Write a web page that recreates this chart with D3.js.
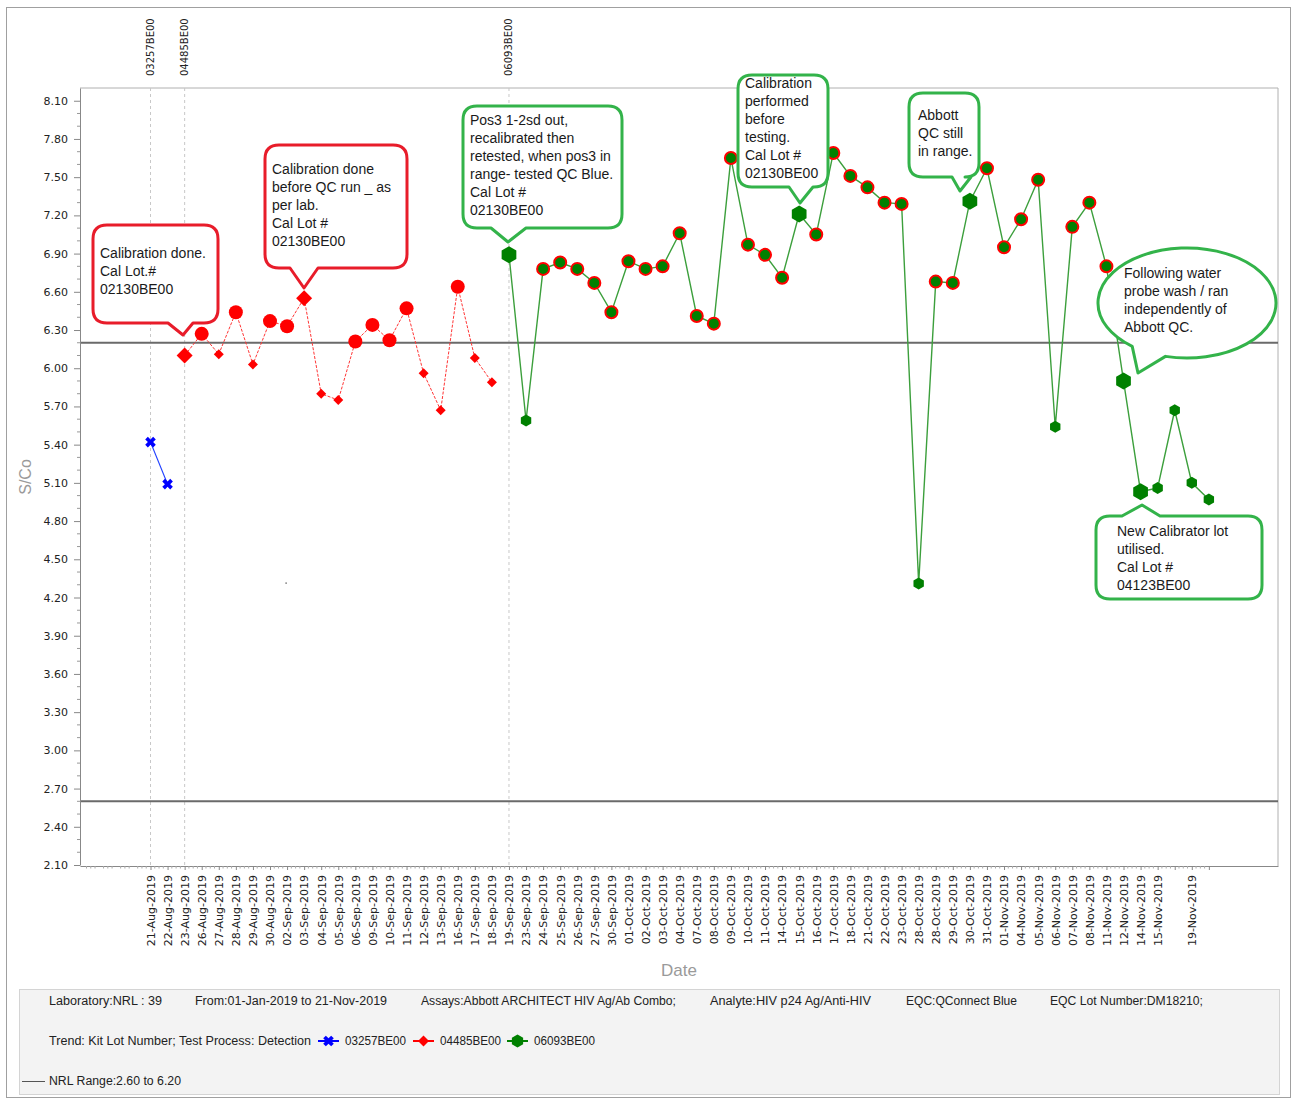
<!DOCTYPE html>
<html>
<head>
<meta charset="utf-8">
<script src="https://cdn.jsdelivr.net/npm/d3@7"></script>
<style>
  body { margin: 0; background: #fff; }
  svg { display: block; }
</style>
</head>
<body>
<div id="chart"></div>
<script>
// QC trend chart for QConnect Blue, by kit lot number.

const dates = [
  '21-Aug-2019', '22-Aug-2019', '23-Aug-2019', '26-Aug-2019', '27-Aug-2019', '28-Aug-2019', '29-Aug-2019', '30-Aug-2019',
  '02-Sep-2019', '03-Sep-2019', '04-Sep-2019', '05-Sep-2019', '06-Sep-2019', '09-Sep-2019', '10-Sep-2019', '11-Sep-2019',
  '12-Sep-2019', '13-Sep-2019', '16-Sep-2019', '17-Sep-2019', '18-Sep-2019', '19-Sep-2019', '23-Sep-2019', '24-Sep-2019',
  '25-Sep-2019', '26-Sep-2019', '27-Sep-2019', '30-Sep-2019', '01-Oct-2019', '02-Oct-2019', '03-Oct-2019', '04-Oct-2019',
  '07-Oct-2019', '08-Oct-2019', '09-Oct-2019', '10-Oct-2019', '11-Oct-2019', '14-Oct-2019', '15-Oct-2019', '16-Oct-2019',
  '17-Oct-2019', '18-Oct-2019', '21-Oct-2019', '22-Oct-2019', '23-Oct-2019', '28-Oct-2019', '28-Oct-2019', '29-Oct-2019',
  '30-Oct-2019', '31-Oct-2019', '01-Nov-2019', '04-Nov-2019', '05-Nov-2019', '06-Nov-2019', '07-Nov-2019', '08-Nov-2019',
  '11-Nov-2019', '12-Nov-2019', '14-Nov-2019', '15-Nov-2019', '', '19-Nov-2019', ''
];

const lotNames = ['03257BE00', '04485BE00', '06093BE00'];
const lotStart = [0, 2, 21];
const lotBlue = [5.42, 5.09];
const lotRed = [6.10, 6.27, 6.11, 6.44, 6.03, 6.37, 6.33, 6.55, 5.80, 5.75, 6.21, 6.34, 6.22, 6.47, 5.96, 5.67, 6.64, 6.08, 5.89];
const lotGreen = [
  6.89, 5.59, 6.78, 6.83, 6.78, 6.67, 6.44, 6.84, 6.78, 6.80, 7.06, 6.41, 6.35, 7.65, 6.97, 6.89, 6.71, 7.21, 7.05, 7.69,
  7.51, 7.42, 7.30, 7.29, 4.31, 6.68, 6.67, 7.31, 7.57, 6.95, 7.17, 7.48, 5.54, 7.11, 7.30, 6.80, 5.90, 5.03, 5.06, 5.67,
  5.10, 4.97
];
const annotated = [2, 9, 21, 38, 48, 57, 58];
const nrlRange = [2.60, 6.20];
const yTicks = d3.range(0, 21).map(i => +(2.10 + i * 0.30).toFixed(2));

const infoRow1 = [
  'Laboratory:NRL : 39', 'From:01-Jan-2019 to 21-Nov-2019', 'Assays:Abbott ARCHITECT HIV Ag/Ab Combo;',
  'Analyte:HIV p24 Ag/Anti-HIV', 'EQC:QConnect Blue', 'EQC Lot Number:DM18210;'
];
const trendLabel = 'Trend: Kit Lot Number; Test Process: Detection';
const rangeLabel = 'NRL Range:2.60 to 6.20';

// callout notes (annotation boxes, pixel layout)
const notes = [
  {color: 'red', lines: ['Calibration done.', 'Cal Lot.#', '02130BE00'],
    box: [93, 225, 218, 323], side: 'bottom', base: [168, 193], tip: [183, 335], tx: 100, ty: 253},
  {color: 'red', lines: ['Calibration done', 'before QC run _ as', 'per lab.', 'Cal Lot #', '02130BE00'],
    box: [265, 145, 407, 268], side: 'bottom', base: [290, 318], tip: [304, 288], tx: 272, ty: 169},
  {color: 'green', lines: ['Pos3 1-2sd out,', 'recalibrated then', 'retested, when pos3 in', 'range- tested QC Blue.', 'Cal Lot #', '02130BE00'],
    box: [463, 106, 622, 228], side: 'bottom', base: [491, 526], tip: [508, 242], tx: 470, ty: 120},
  {color: 'green', lines: ['Calibration', 'performed', 'before', 'testing.', 'Cal Lot #', '02130BE00'],
    box: [738, 75, 828, 187], side: 'bottom', base: [789, 813], tip: [800, 203], tx: 745, ty: 83},
  {color: 'green', lines: ['Abbott', 'QC still', 'in range.'],
    box: [909, 93, 979, 177], side: 'bottom', base: [952, 971], tip: [960, 191], tx: 918, ty: 115},
  {color: 'green', lines: ['Following water', 'probe wash / ran', 'independently of', 'Abbott QC.'],
    ellipse: [1187, 303, 89, 55], base: [128, 104], tip: [1138, 373], tx: 1124, ty: 273},
  {color: 'green', lines: ['New Calibrator lot', 'utilised.', 'Cal Lot #', '04123BE00'],
    box: [1096, 516, 1262, 599], side: 'top', base: [1122, 1160], tip: [1142, 505], tx: 1117, ty: 531}
];

const W = 1292, H = 1099;
const plot = {left: 80, right: 1278, top: 88, bottom: 866};
const colors = {blue: '#0000ff', red: '#ff0000', green: '#008000', noteRed: '#e81c2a', noteGreen: '#33b34a'};

const svg = d3.select('#chart').append('svg')
  .attr('width', W).attr('height', H)
  .style('font-family', '"DejaVu Sans", sans-serif');

const x = d3.scaleLinear().domain([-4.13, 66.05]).range([plot.left, plot.right]);
const y = d3.scaleLinear().domain([2.10, 8.20]).range([plot.bottom - 1, plot.top]);

// outer frame and info box
svg.append('rect').attr('x', 6.5).attr('y', 7.5).attr('width', 1284).attr('height', 1090)
  .attr('fill', '#fff').attr('stroke', '#a0a0a0');
svg.append('rect').attr('x', 19.5).attr('y', 989.5).attr('width', 1260).attr('height', 105)
  .attr('fill', '#f3f3f3').attr('stroke', '#d4d4d4');

// plot frame
svg.append('path')
  .attr('d', `M${plot.left},${plot.top}H${plot.right}V${plot.bottom}`)
  .attr('fill', 'none').attr('stroke', '#b0b0b0');

// lot change lines and labels
lotStart.forEach((s, i) => {
  svg.append('line')
    .attr('x1', x(s)).attr('x2', x(s)).attr('y1', plot.top).attr('y2', plot.bottom)
    .attr('stroke', '#c8c8c8').attr('stroke-dasharray', '3,3');
  svg.append('text')
    .attr('transform', `translate(${x(s) + 3.5},76) rotate(-90)`)
    .attr('font-size', 10).attr('fill', '#222')
    .text(lotNames[i]);
});

// NRL range lines
nrlRange.forEach(v => {
  svg.append('line')
    .attr('x1', plot.left).attr('x2', plot.right).attr('y1', y(v)).attr('y2', y(v))
    .attr('stroke', '#6a6a6a').attr('stroke-width', 2);
});

// y axis
const yAxis = svg.append('g').attr('transform', `translate(${plot.left},0)`)
  .call(d3.axisLeft(y).tickValues(yTicks).tickFormat(d3.format('.2f')).tickSize(6).tickSizeOuter(0));
yAxis.select('.domain').attr('stroke', '#888');
yAxis.selectAll('.tick line').attr('stroke', '#888');
yAxis.selectAll('.tick text').attr('font-size', 11).attr('fill', '#222').attr('x', -12)
  .style('font-family', '"DejaVu Sans", sans-serif');
svg.append('g').selectAll('line')
  .data(d3.range(2.1, 8.15, 0.1).filter((d, i) => i % 3 !== 0))
  .join('line')
  .attr('x1', plot.left - 3).attr('x2', plot.left).attr('y1', d => y(d)).attr('y2', d => y(d))
  .attr('stroke', '#999');

// x axis
const xAxis = svg.append('g').attr('transform', `translate(0,${plot.bottom})`)
  .call(d3.axisBottom(x).tickValues(d3.range(0, dates.length)).tickFormat(i => dates[i]).tickSize(4).tickSizeOuter(0));
xAxis.select('.domain').attr('stroke', '#888');
xAxis.selectAll('.tick line').attr('stroke', '#888');
xAxis.selectAll('.tick text')
  .attr('font-size', 11).attr('fill', '#222')
  .attr('transform', 'rotate(-90)')
  .attr('text-anchor', 'end').attr('dy', '0.35em').attr('x', -9).attr('y', 0)
  .style('font-family', '"DejaVu Sans", sans-serif');
svg.append('g').selectAll('line')
  .data(d3.range(-4, dates.length - 0.9, 0.25).filter(d => d % 1 !== 0))
  .join('line')
  .attr('x1', d => x(d)).attr('x2', d => x(d)).attr('y1', plot.bottom).attr('y2', plot.bottom + 2.5)
  .attr('stroke', '#aaa');

// axis titles
svg.append('text').attr('transform', `translate(31,477) rotate(-90)`)
  .attr('text-anchor', 'middle').attr('font-size', 16).attr('fill', '#9a9a9a')
  .style('font-family', '"Liberation Sans Narrow", "Liberation Sans", sans-serif')
  .text('S/Co');
svg.append('text').attr('x', 679).attr('y', 976)
  .attr('text-anchor', 'middle').attr('font-size', 17).attr('fill', '#9a9a9a')
  .style('font-family', '"Liberation Sans", sans-serif')
  .text('Date');

// markers
const hexPath = r => d3.line()(d3.range(6).map(k => {
  const a = Math.PI / 3 * k - Math.PI / 2;
  return [r * Math.cos(a), r * Math.sin(a)];
})) + 'Z';
const crossPath = d3.symbol(d3.symbolCross, 70)();
const squarePath = s => d3.symbol(d3.symbolSquare, s)();

const series = [
  {values: lotBlue, start: lotStart[0], color: colors.blue, line: '#2040ff', width: 1.2, dash: null},
  {values: lotRed, start: lotStart[1], color: colors.red, line: '#ff3535', width: 1, dash: '3,1.5'},
  {values: lotGreen, start: lotStart[2], color: colors.green, line: '#3c9f3c', width: 1.4, dash: null}
];

series.forEach((s, si) => {
  const pts = s.values.map((v, i) => ({i: s.start + i, v}));
  svg.append('path')
    .attr('d', d3.line().x(d => x(d.i)).y(d => y(d.v))(pts))
    .attr('fill', 'none').attr('stroke', s.line).attr('stroke-width', s.width)
    .attr('stroke-dasharray', s.dash);

  const g = svg.append('g');
  pts.forEach(p => {
    const big = annotated.includes(p.i);
    const out = p.v > nrlRange[1];
    const m = g.append('path').attr('transform', `translate(${x(p.i)},${y(p.v)})`);
    if (si === 0) {
      m.attr('d', crossPath).attr('fill', s.color)
        .attr('transform', `translate(${x(p.i)},${y(p.v)}) rotate(45)`);
    } else if (si === 1) {
      if (out && !big) m.attr('d', d3.symbol(d3.symbolCircle, Math.PI * 49)()).attr('fill', s.color);
      else m.attr('d', squarePath(big ? 128 : 50)).attr('fill', s.color)
        .attr('transform', `translate(${x(p.i)},${y(p.v)}) rotate(45)`);
    } else {
      if (out && !big) m.attr('d', d3.symbol(d3.symbolCircle, Math.PI * 36)())
        .attr('fill', s.color).attr('stroke', colors.red).attr('stroke-width', 2);
      else m.attr('d', hexPath(big ? 8.5 : 6)).attr('fill', s.color);
    }
  });
});

// stray dot
svg.append('rect').attr('x', 285.5).attr('y', 582.5).attr('width', 1.2).attr('height', 1.2).attr('fill', '#333');

// callouts
function bubble(n) {
  if (n.ellipse) {
    const [cx, cy, rx, ry] = n.ellipse;
    const pt = a => [cx + rx * Math.cos(a * Math.PI / 180), cy + ry * Math.sin(a * Math.PI / 180)];
    const A = pt(n.base[0]), B = pt(n.base[1]);
    return `M${A}A${rx},${ry} 0 1 1 ${B}L${n.tip}Z`;
  }
  const [x0, y0, x1, y1] = n.box, r = 14;
  if (n.side === 'bottom') {
    return `M${x0 + r},${y0}H${x1 - r}Q${x1},${y0} ${x1},${y0 + r}V${y1 - r}Q${x1},${y1} ${x1 - r},${y1}` +
      `H${n.base[1]}L${n.tip}L${n.base[0]},${y1}H${x0 + r}Q${x0},${y1} ${x0},${y1 - r}V${y0 + r}Q${x0},${y0} ${x0 + r},${y0}Z`;
  }
  return `M${x0 + r},${y0}H${n.base[0]}L${n.tip}L${n.base[1]},${y0}H${x1 - r}Q${x1},${y0} ${x1},${y0 + r}V${y1 - r}` +
    `Q${x1},${y1} ${x1 - r},${y1}H${x0 + r}Q${x0},${y1} ${x0},${y1 - r}V${y0 + r}Q${x0},${y0} ${x0 + r},${y0}Z`;
}

notes.forEach(n => {
  svg.append('path').attr('d', bubble(n))
    .attr('fill', '#fff')
    .attr('stroke', n.color === 'red' ? colors.noteRed : colors.noteGreen)
    .attr('stroke-width', 3).attr('stroke-linejoin', 'round');
  const t = svg.append('text')
    .attr('font-size', 14).attr('fill', '#1a1a1a')
    .style('font-family', '"Liberation Sans", Arial, sans-serif');
  n.lines.forEach((line, i) => {
    t.append('tspan').attr('x', n.tx).attr('y', n.ty + i * 18).attr('dy', '0.35em').text(line);
  });
});

// info box text
const infoFont = '"Liberation Sans", Arial, sans-serif';
const infoX = [49, 195, 421, 710, 906, 1050];
const infoW = [113, 192, 255, 161, 111, 153];
infoRow1.forEach((s, i) => {
  svg.append('text').attr('x', infoX[i]).attr('y', 1005).attr('font-size', 12).attr('fill', '#222')
    .attr('textLength', infoW[i]).attr('lengthAdjust', 'spacingAndGlyphs')
    .style('font-family', infoFont).text(s);
});
svg.append('text').attr('x', 49).attr('y', 1045).attr('font-size', 12).attr('fill', '#222')
  .attr('textLength', 262).attr('lengthAdjust', 'spacingAndGlyphs')
  .style('font-family', infoFont).text(trendLabel);

const legendX = [318, 413, 507];
lotNames.forEach((name, i) => {
  const lx = legendX[i], ly = 1041;
  svg.append('line').attr('x1', lx).attr('x2', lx + 21).attr('y1', ly).attr('y2', ly)
    .attr('stroke', series[i].color).attr('stroke-width', 2);
  const m = svg.append('path');
  if (i === 0) m.attr('d', crossPath).attr('transform', `translate(${lx + 10.5},${ly}) rotate(45)`);
  else if (i === 1) m.attr('d', squarePath(60)).attr('transform', `translate(${lx + 10.5},${ly}) rotate(45)`);
  else m.attr('d', hexPath(6.5)).attr('transform', `translate(${lx + 10.5},${ly})`);
  m.attr('fill', series[i].color);
  svg.append('text').attr('x', lx + 27).attr('y', 1045).attr('font-size', 12).attr('fill', '#222')
    .attr('textLength', 61).attr('lengthAdjust', 'spacingAndGlyphs')
    .style('font-family', infoFont).text(name);
});

svg.append('line').attr('x1', 22).attr('x2', 45).attr('y1', 1081.5).attr('y2', 1081.5)
  .attr('stroke', '#555').attr('stroke-width', 1);
svg.append('text').attr('x', 49).attr('y', 1085).attr('font-size', 12).attr('fill', '#222')
  .attr('textLength', 132).attr('lengthAdjust', 'spacingAndGlyphs')
  .style('font-family', infoFont).text(rangeLabel);
</script>
</body>
</html>
